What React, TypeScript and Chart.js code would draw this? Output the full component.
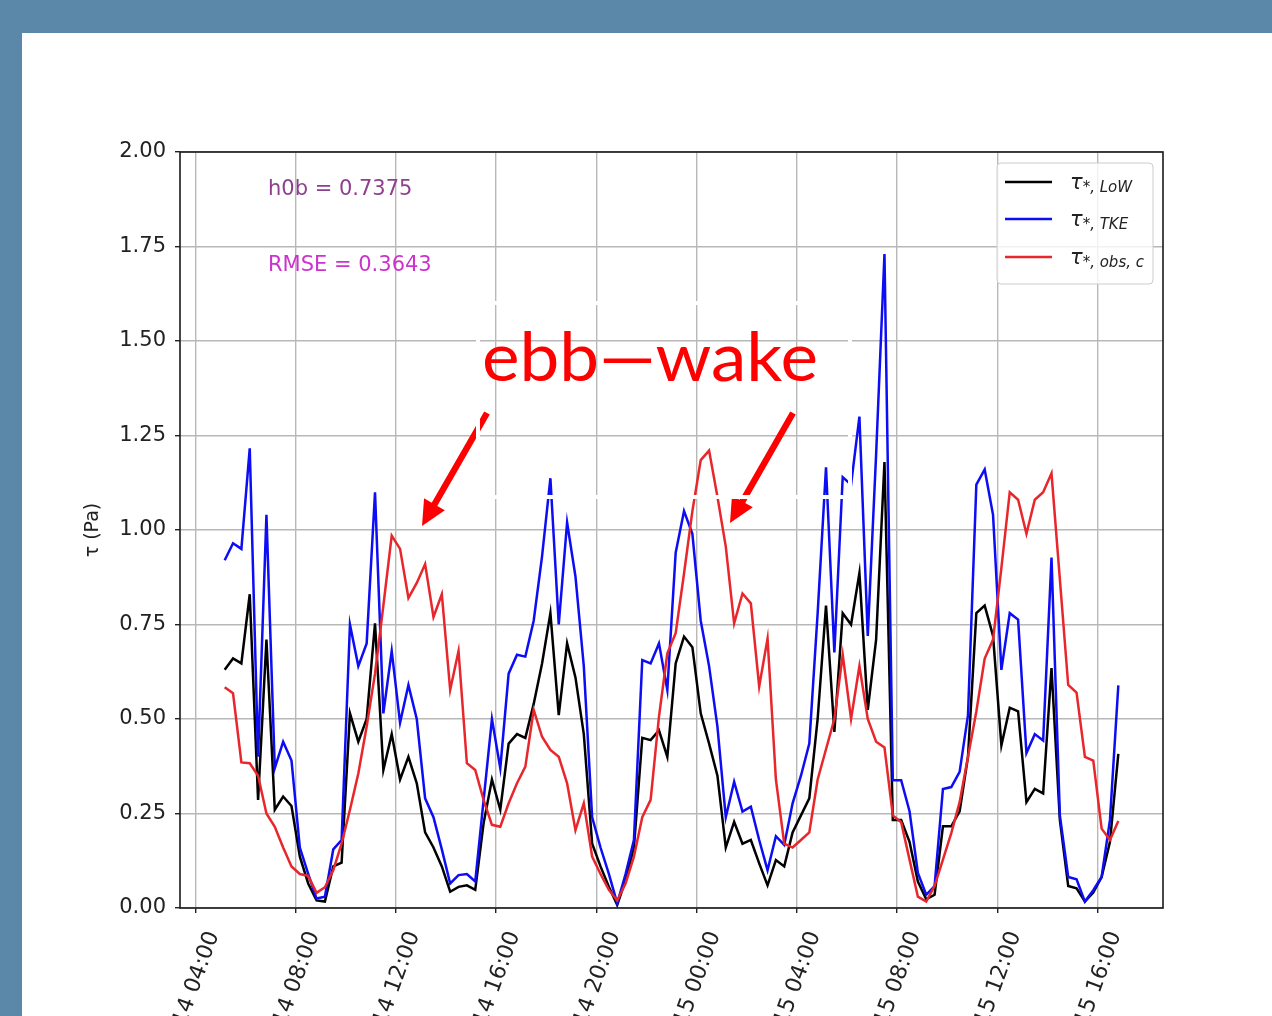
import React, { useEffect, useRef } from "react";
import { Chart, registerables } from "chart.js";

Chart.register(...registerables);

// sampling grid: 14th 05:10, every 20 minutes (hours since 14th 00:00)
const START_HOUR = 5 + 10 / 60;
const STEP_HOURS = 1 / 3;

const TAU_LOW = [
  0.63, 0.66, 0.647, 0.83, 0.286, 0.71, 0.26, 0.295, 0.27, 0.136,
  0.065, 0.02, 0.017, 0.11, 0.12, 0.515, 0.44, 0.5, 0.753, 0.365,
  0.46, 0.34, 0.4, 0.33, 0.2, 0.16, 0.11, 0.043, 0.056, 0.06,
  0.048, 0.224, 0.34, 0.26, 0.435, 0.46, 0.45, 0.54, 0.647, 0.78,
  0.51, 0.7, 0.61, 0.46, 0.17, 0.11, 0.056, 0.008, 0.074, 0.16,
  0.45, 0.444, 0.47, 0.4, 0.647, 0.718, 0.69, 0.515, 0.435, 0.35,
  0.16, 0.228, 0.17, 0.18, 0.118, 0.06, 0.127, 0.11, 0.2, 0.245,
  0.29, 0.5, 0.8, 0.466, 0.78, 0.75, 0.886, 0.524, 0.71, 1.18,
  0.233, 0.233, 0.175, 0.07, 0.023, 0.035, 0.216, 0.216, 0.256, 0.4,
  0.78, 0.8, 0.72, 0.43, 0.53, 0.52, 0.28, 0.315, 0.303, 0.635,
  0.233, 0.058, 0.052, 0.017, 0.041, 0.082, 0.175, 0.408,
];

const TAU_TKE = [
  0.92, 0.965, 0.95, 1.216, 0.4, 1.04, 0.37, 0.44, 0.39, 0.16,
  0.09, 0.025, 0.03, 0.155, 0.18, 0.75, 0.64, 0.7, 1.1, 0.515,
  0.68, 0.49, 0.59, 0.5, 0.29, 0.24, 0.155, 0.065, 0.087, 0.09,
  0.07, 0.285, 0.5, 0.37, 0.62, 0.67, 0.665, 0.76, 0.93, 1.137,
  0.75, 1.02, 0.877, 0.64, 0.24, 0.16, 0.09, 0.012, 0.09, 0.18,
  0.656, 0.647, 0.7, 0.577, 0.94, 1.05, 0.99, 0.76, 0.64, 0.48,
  0.24, 0.334, 0.255, 0.268, 0.18, 0.1, 0.19, 0.167, 0.277, 0.35,
  0.435, 0.78, 1.166, 0.676, 1.14, 1.12, 1.3, 0.72, 1.2, 1.73,
  0.338, 0.338, 0.256, 0.093, 0.035, 0.058, 0.315, 0.32, 0.36, 0.51,
  1.12, 1.16, 1.04, 0.63, 0.78, 0.763, 0.41, 0.46, 0.443, 0.927,
  0.245, 0.082, 0.076, 0.017, 0.047, 0.082, 0.233, 0.589,
];

const TAU_OBS = [
  0.584, 0.568, 0.385, 0.383, 0.35, 0.25, 0.215, 0.16, 0.11, 0.09,
  0.085, 0.04, 0.055, 0.1, 0.17, 0.26, 0.356, 0.48, 0.62, 0.8,
  0.985, 0.95, 0.82, 0.86, 0.91, 0.77, 0.83, 0.577, 0.68, 0.383,
  0.365, 0.286, 0.22, 0.215, 0.277, 0.33, 0.374, 0.524, 0.453, 0.418,
  0.4, 0.33, 0.206, 0.277, 0.136, 0.09, 0.048, 0.02, 0.065, 0.136,
  0.24, 0.286, 0.506, 0.674, 0.727, 0.885, 1.05, 1.185, 1.21, 1.088,
  0.956, 0.753, 0.832, 0.806, 0.586, 0.713, 0.34, 0.17, 0.16, 0.18,
  0.2, 0.34, 0.42, 0.5, 0.67, 0.5, 0.64, 0.5, 0.44, 0.425,
  0.245, 0.227, 0.128, 0.03, 0.017, 0.058, 0.128, 0.198, 0.28, 0.4,
  0.52, 0.66, 0.71, 0.9, 1.1, 1.08, 0.99, 1.08, 1.1, 1.15,
  0.87, 0.59, 0.57, 0.4, 0.39, 0.21, 0.18, 0.23,
];

const X_TICK_HOURS = [4, 8, 12, 16, 20, 24, 28, 32, 36, 40];
const X_TICK_LABELS = [
  "2018-05-14 04:00",
  "2018-05-14 08:00",
  "2018-05-14 12:00",
  "2018-05-14 16:00",
  "2018-05-14 20:00",
  "2018-05-15 00:00",
  "2018-05-15 04:00",
  "2018-05-15 08:00",
  "2018-05-15 12:00",
  "2018-05-15 16:00",
];
const Y_TICKS = [0, 0.25, 0.5, 0.75, 1.0, 1.25, 1.5, 1.75, 2.0];

const SERIES_SUBSCRIPTS = ["*, LoW", "*, TKE", "*, obs, c"];
const SERIES_COLORS = ["#000000", "#0d0df5", "#e8262b"];
const Y_LABEL = "τ (Pa)";
const H0B_TEXT = "h0b = 0.7375";
const RMSE_TEXT = "RMSE = 0.3643";
const ANNOTATION_TEXT = "ebb—wake";

const TIME_HOURS = TAU_LOW.map((_, i) => START_HOUR + i * STEP_HOURS);
const X_RANGE = TIME_HOURS[TIME_HOURS.length - 1] - TIME_HOURS[0];
const X_MIN = TIME_HOURS[0] - 0.05 * X_RANGE;
const X_MAX = TIME_HOURS[TIME_HOURS.length - 1] + 0.05 * X_RANGE;

const FONT = '"DejaVu Sans", sans-serif';

function drawArrow(ctx: CanvasRenderingContext2D, x1: number, y1: number, x2: number, y2: number) {
  const dx = x2 - x1;
  const dy = y2 - y1;
  const len = Math.hypot(dx, dy);
  const ux = dx / len;
  const uy = dy / len;
  const px = -uy;
  const py = ux;
  const headLen = 25;
  const headHalf = 12;
  const shaftHalf = 3.2;
  const bx = x2 - ux * headLen;
  const by = y2 - uy * headLen;
  ctx.beginPath();
  ctx.moveTo(x1 + px * shaftHalf, y1 + py * shaftHalf);
  ctx.lineTo(bx + px * shaftHalf, by + py * shaftHalf);
  ctx.lineTo(bx + px * headHalf, by + py * headHalf);
  ctx.lineTo(x2, y2);
  ctx.lineTo(bx - px * headHalf, by - py * headHalf);
  ctx.lineTo(bx - px * shaftHalf, by - py * shaftHalf);
  ctx.lineTo(x1 - px * shaftHalf, y1 - py * shaftHalf);
  ctx.closePath();
  ctx.fill();
}

const decorPlugin = {
  id: "decor",
  beforeDraw(chart: any) {
    const { ctx, width, height } = chart;
    ctx.save();
    ctx.fillStyle = "#5b87a8";
    ctx.fillRect(0, 0, width, height);
    ctx.fillStyle = "#ffffff";
    ctx.fillRect(22, 33, width - 22, height - 33);
    ctx.restore();
  },
  afterDatasetsDraw(chart: any) {
    const { ctx, chartArea: a } = chart;
    ctx.save();

    // axes frame
    ctx.strokeStyle = "#1a1a1a";
    ctx.lineWidth = 1.6;
    ctx.strokeRect(a.left, a.top, a.right - a.left, a.bottom - a.top);

    // text annotations
    ctx.font = `21px ${FONT}`;
    ctx.textAlign = "left";
    ctx.textBaseline = "alphabetic";
    ctx.fillStyle = "#8f3f8f";
    ctx.fillText(H0B_TEXT, a.left + 88, a.top + 43);
    ctx.fillStyle = "#cc33cc";
    ctx.fillText(RMSE_TEXT, a.left + 88, a.top + 119);

    // legend
    const lx = a.right - 166;
    const ly = a.top + 11;
    const lw = 156;
    const lh = 121;
    ctx.beginPath();
    ctx.roundRect(lx, ly, lw, lh, 4);
    ctx.fillStyle = "rgba(255,255,255,0.8)";
    ctx.fill();
    ctx.strokeStyle = "#cccccc";
    ctx.lineWidth = 1;
    ctx.stroke();
    const rows = [a.top + 30, a.top + 67, a.top + 105];
    rows.forEach((ry, k) => {
      ctx.strokeStyle = SERIES_COLORS[k];
      ctx.lineWidth = 2.5;
      ctx.beginPath();
      ctx.moveTo(a.right - 158, ry);
      ctx.lineTo(a.right - 111, ry);
      ctx.stroke();
      ctx.fillStyle = "#222222";
      ctx.font = `italic 21px ${FONT}`;
      const tx = a.right - 93;
      ctx.fillText("τ", tx, ry + 7);
      const w = ctx.measureText("τ").width;
      ctx.font = `italic 15px ${FONT}`;
      ctx.fillText(SERIES_SUBSCRIPTS[k], tx + w, ry + 10);
    });

    // red annotation arrows
    ctx.fillStyle = "#ff0000";
    drawArrow(ctx, 487, 413, 422, 526);
    drawArrow(ctx, 793, 413, 730, 523);

    // big annotation text
    ctx.font = `68px Lato, "Open Sans", sans-serif`;
    const m = ctx.measureText(ANNOTATION_TEXT).width;
    const targetW = 336;
    ctx.save();
    ctx.translate(482, 381);
    ctx.scale(targetW / m, 1);
    ctx.fillStyle = "#ff0000";
    ctx.fillText(ANNOTATION_TEXT, 0, 0);
    ctx.restore();

    // white text-box border
    ctx.strokeStyle = "#ffffff";
    ctx.lineWidth = 4;
    ctx.strokeRect(478, 303, 372, 194);

    ctx.restore();
  },
};

export default function App() {
  const ref = useRef<HTMLCanvasElement>(null);

  useEffect(() => {
    const canvas = ref.current;
    if (!canvas) return;
    const mk = (vals: number[]) => vals.map((v, i) => ({ x: TIME_HOURS[i], y: v }));
    const chart = new Chart(canvas, {
      type: "line",
      data: {
        datasets: [
          { label: "LoW", data: mk(TAU_LOW), borderColor: SERIES_COLORS[0], order: 3 },
          { label: "TKE", data: mk(TAU_TKE), borderColor: SERIES_COLORS[1], order: 2 },
          { label: "obs, c", data: mk(TAU_OBS), borderColor: SERIES_COLORS[2], order: 1 },
        ].map((d) => ({
          ...d,
          borderWidth: 2.5,
          pointRadius: 0,
          tension: 0,
          fill: false,
        })),
      },
      options: {
        responsive: false,
        maintainAspectRatio: false,
        devicePixelRatio: 1,
        animation: false,
        events: [],
        layout: { padding: { left: 80, top: 152, right: 109, bottom: 0 } },
        plugins: {
          legend: { display: false },
          tooltip: { enabled: false },
          title: { display: false },
        },
        scales: {
          x: {
            type: "linear",
            min: X_MIN,
            max: X_MAX,
            afterBuildTicks: (scale: any) => {
              scale.ticks = X_TICK_HOURS.map((v) => ({ value: v }));
            },
            afterFit: (scale: any) => {
              scale.height = 108;
            },
            ticks: {
              autoSkip: false,
              minRotation: 70,
              maxRotation: 70,
              labelOffset: 18,
              padding: 15,
              color: "#222222",
              font: { family: FONT, size: 22 },
              callback: (_v: any, i: number) => X_TICK_LABELS[i],
            },
            grid: {
              color: "#b8b8b8",
              lineWidth: 1.4,
              tickColor: "#222222",
              tickWidth: 1.4,
              tickLength: 5,
              drawTicks: true,
            },
            border: { display: false },
          },
          y: {
            type: "linear",
            min: 0,
            max: 2,
            afterBuildTicks: (scale: any) => {
              scale.ticks = Y_TICKS.map((v) => ({ value: v }));
            },
            afterFit: (scale: any) => {
              scale.width = 100;
            },
            ticks: {
              padding: 9,
              color: "#222222",
              font: { family: FONT, size: 21 },
              callback: (v: any) => Number(v).toFixed(2),
            },
            grid: {
              color: "#b8b8b8",
              lineWidth: 1.4,
              tickColor: "#222222",
              tickWidth: 1.4,
              tickLength: 5,
              drawTicks: true,
            },
            border: { display: false },
            title: {
              display: true,
              text: Y_LABEL,
              color: "#222222",
              font: { family: FONT, size: 19 },
              padding: { top: 2, bottom: 0 },
            },
          },
        },
      },
      plugins: [decorPlugin],
    } as any);
    return () => chart.destroy();
  }, []);

  return (
    <div
      style={{
        position: "fixed",
        left: 0,
        top: 0,
        width: 1272,
        height: 1016,
        overflow: "hidden",
        background: "#5b87a8",
      }}
    >
      <canvas ref={ref} width={1272} height={1016} style={{ display: "block", width: 1272, height: 1016 }} />
    </div>
  );
}
